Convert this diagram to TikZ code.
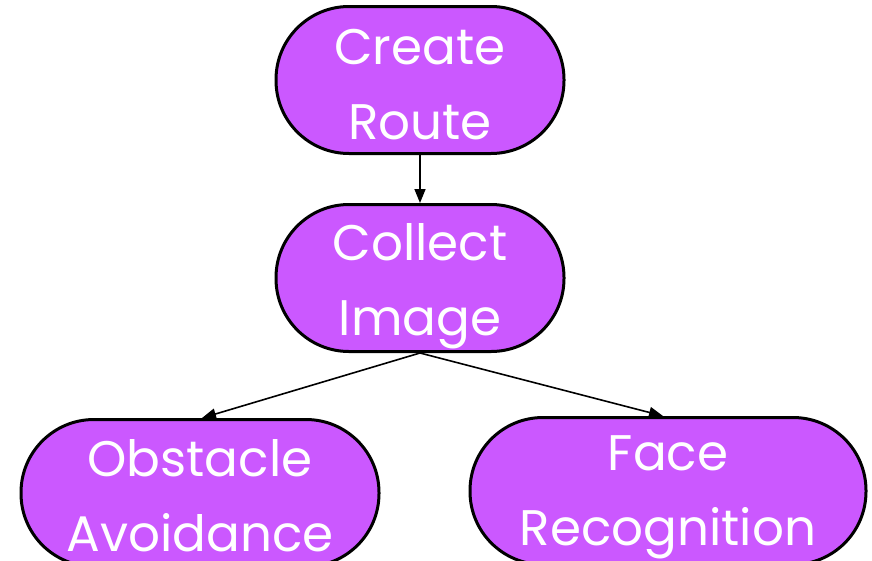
\documentclass[tikz,border=0pt]{standalone}
\usepackage{fontspec}
\setmainfont{Poppins}
\usetikzlibrary{arrows.meta}
\definecolor{stepfill}{RGB}{203,88,255}
\tikzset{
  stadium/.style={draw=black, line width=3pt, fill=stepfill, rectangle,
    rounded corners=73pt, minimum height=147pt, inner sep=0pt},
  stadtext/.style={text=white, align=center, inner sep=0pt,
    font=\fontsize{50}{75}\selectfont},
  flow/.style={draw=black, line width=1.6pt, -{Triangle[length=14pt,width=11pt]}}
}
\begin{document}
\begin{tikzpicture}[x=1pt,y=1pt]
  \useasboundingbox (0,0) rectangle (872,-560);
  \clip (0,0) rectangle (872,-560);
  \node[stadium, minimum width=288pt,
        label={[stadtext, yshift=-5pt]center:Create\\Route}] (create) at (420,-80) {};
  \node[stadium, minimum width=288pt,
        label={[stadtext, yshift=-8pt]center:Collect\\Image}] (collect) at (420,-278) {};
  \node[stadium, minimum width=358pt,
        label={[stadtext, yshift=-3pt]center:Obstacle\\Avoidance}] (obst) at (200,-493) {};
  \node[stadium, minimum width=396pt,
        label={[stadtext, yshift=-6pt]center:Face\\Recognition}] (face) at (668,-491) {};
  \draw[flow] (create.south) -- (collect.north);
  \draw[flow] (collect.south) -- ([xshift=2pt]obst.north);
  \draw[flow] (collect.south) -- ([xshift=-5pt]face.north);
\end{tikzpicture}
\end{document}
